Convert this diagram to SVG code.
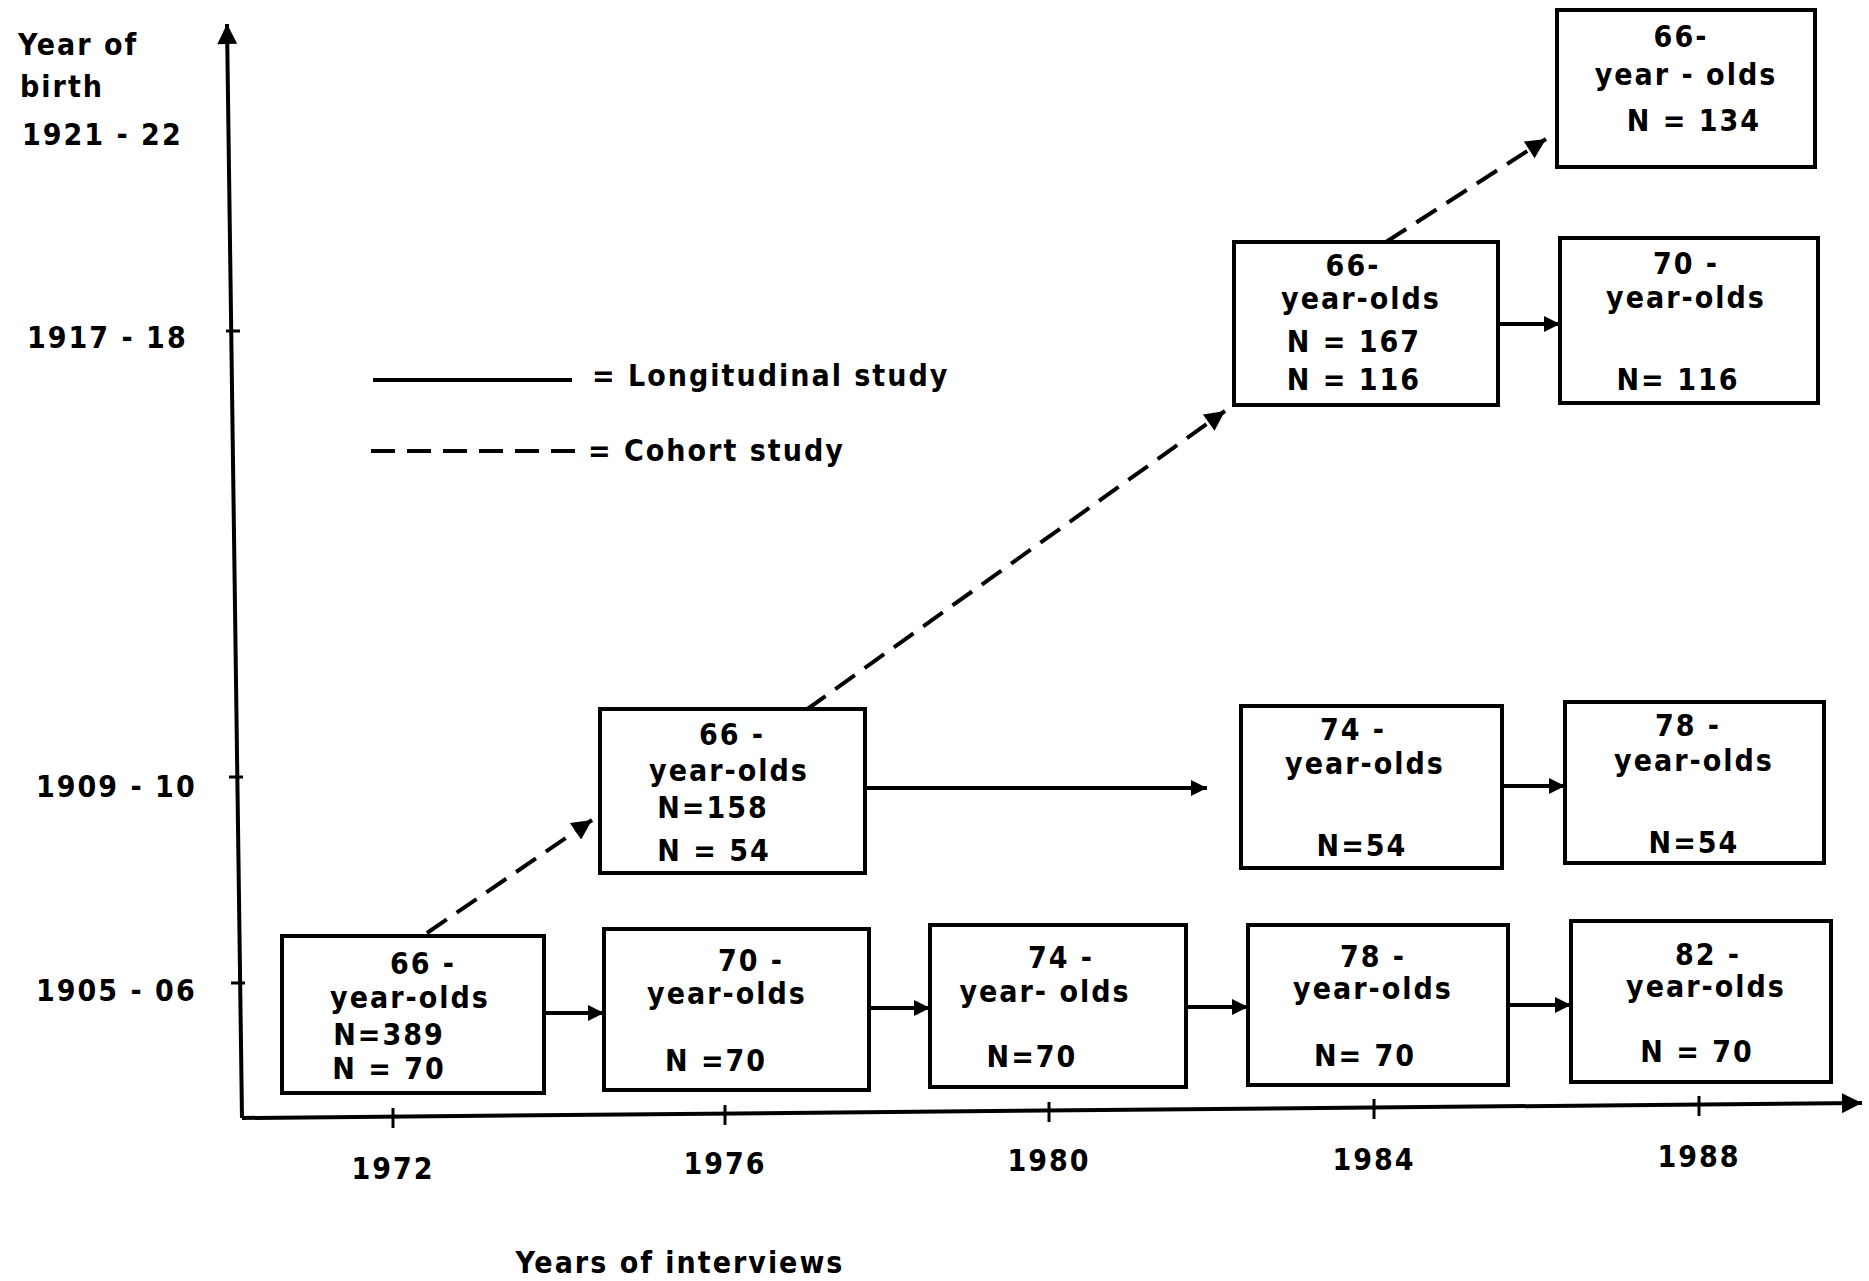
<svg xmlns="http://www.w3.org/2000/svg" width="1869" height="1281" viewBox="0 0 1869 1281">
  <style>
    text { font-family: "DejaVu Sans Condensed", "DejaVu Sans", sans-serif; font-weight: bold; font-size: 30px; fill: #000; letter-spacing: 2px; }
    .c { text-anchor: middle; }
    .box { fill: #fff; stroke: #000; stroke-width: 4; }
    .axis { stroke: #000; stroke-width: 4; fill: none; }
    .tick { stroke: #000; stroke-width: 3; }
    .solid { stroke: #000; stroke-width: 4; fill: none; }
    .dash { stroke: #000; stroke-width: 4; fill: none; stroke-dasharray: 24 12; }
  </style>
  <defs>
    <marker id="head" viewBox="0 0 10 10" refX="10" refY="5" markerWidth="5" markerHeight="4" orient="auto" markerUnits="strokeWidth">
      <path d="M0,0 L10,5 L0,10 z" fill="#000"/>
    </marker>
    <marker id="headBig" viewBox="0 0 10 10" refX="10" refY="5" markerWidth="7" markerHeight="5" orient="auto" markerUnits="strokeWidth">
      <path d="M0,0 L10,5 L0,10 z" fill="#000"/>
    </marker>
  </defs>

  <!-- axes -->
  <g id="axes">
    <line class="axis" x1="242" y1="1118" x2="227" y2="24" marker-end="url(#headBig)"/>
    <line class="axis" x1="242" y1="1118" x2="1862" y2="1103" marker-end="url(#headBig)"/>
    <line class="tick" x1="226" y1="331" x2="240" y2="331"/>
    <line class="tick" x1="229" y1="777" x2="243" y2="777"/>
    <line class="tick" x1="231" y1="983" x2="245" y2="983"/>
    <line class="tick" x1="393" y1="1108" x2="393" y2="1128"/>
    <line class="tick" x1="725" y1="1105" x2="725" y2="1125"/>
    <line class="tick" x1="1049" y1="1102" x2="1049" y2="1122"/>
    <line class="tick" x1="1374" y1="1099" x2="1374" y2="1119"/>
    <line class="tick" x1="1699" y1="1096" x2="1699" y2="1116"/>
    <text x="18" y="55">Year of</text>
    <text x="20" y="97">birth</text>
    <text x="22" y="145">1921 - 22</text>
    <text x="27" y="348">1917 - 18</text>
    <text x="36" y="797">1909 - 10</text>
    <text x="36" y="1001">1905 - 06</text>
    <text class="c" x="393" y="1179">1972</text>
    <text class="c" x="725" y="1174">1976</text>
    <text class="c" x="1049" y="1171">1980</text>
    <text class="c" x="1374" y="1170">1984</text>
    <text class="c" x="1699" y="1167">1988</text>
    <text class="c" x="680" y="1273">Years  of interviews</text>
  </g>

  <!-- legend -->
  <g id="legend">
    <line class="solid" x1="373" y1="380" x2="572" y2="380"/>
    <text x="592" y="386">= Longitudinal  study</text>
    <line class="dash" x1="371" y1="451" x2="580" y2="451"/>
    <text x="588" y="461">= Cohort  study</text>
  </g>

  <!-- connectors -->
  <g id="connectors">
    <line class="solid" x1="544" y1="1013" x2="604" y2="1013" marker-end="url(#head)"/>
    <line class="solid" x1="869" y1="1008" x2="930" y2="1008" marker-end="url(#head)"/>
    <line class="solid" x1="1186" y1="1007" x2="1248" y2="1007" marker-end="url(#head)"/>
    <line class="solid" x1="1508" y1="1005" x2="1571" y2="1005" marker-end="url(#head)"/>
    <line class="solid" x1="865" y1="788" x2="1207" y2="788" marker-end="url(#head)"/>
    <line class="solid" x1="1502" y1="786" x2="1565" y2="786" marker-end="url(#head)"/>
    <line class="solid" x1="1498" y1="324" x2="1560" y2="324" marker-end="url(#head)"/>
    <line class="dash" x1="427" y1="933" x2="592" y2="820" marker-end="url(#headBig)"/>
    <line class="dash" x1="806" y1="710" x2="1225" y2="411" marker-end="url(#headBig)"/>
    <line class="dash" x1="1386" y1="242" x2="1546" y2="139" marker-end="url(#headBig)"/>
  </g>

  <!-- 1905-06 cohort -->
  <g id="box-1972-66">
    <rect class="box" x="282" y="936" width="262" height="157"/>
    <text class="c" x="423" y="974">66 -</text>
    <text class="c" x="410" y="1008">year-olds</text>
    <text class="c" x="389" y="1045">N=389</text>
    <text class="c" x="389" y="1079">N = 70</text>
  </g>
  <g id="box-1976-70">
    <rect class="box" x="604" y="929" width="265" height="161"/>
    <text class="c" x="751" y="971">70 -</text>
    <text class="c" x="727" y="1004">year-olds</text>
    <text class="c" x="716" y="1071">N =70</text>
  </g>
  <g id="box-1980-74">
    <rect class="box" x="930" y="925" width="256" height="162"/>
    <text class="c" x="1061" y="968">74 -</text>
    <text class="c" x="1045" y="1002">year- olds</text>
    <text class="c" x="1032" y="1067">N=70</text>
  </g>
  <g id="box-1984-78">
    <rect class="box" x="1248" y="925" width="260" height="160"/>
    <text class="c" x="1373" y="967">78 -</text>
    <text class="c" x="1373" y="999">year-olds</text>
    <text class="c" x="1365" y="1066">N= 70</text>
  </g>
  <g id="box-1988-82">
    <rect class="box" x="1571" y="921" width="260" height="161"/>
    <text class="c" x="1708" y="965">82 -</text>
    <text class="c" x="1706" y="997">year-olds</text>
    <text class="c" x="1697" y="1062">N = 70</text>
  </g>

  <!-- 1909-10 cohort -->
  <g id="box-1976-66">
    <rect class="box" x="600" y="709" width="265" height="164"/>
    <text class="c" x="732" y="745">66 -</text>
    <text class="c" x="729" y="781">year-olds</text>
    <text class="c" x="713" y="818">N=158</text>
    <text class="c" x="714" y="861">N = 54</text>
  </g>
  <g id="box-1984-74">
    <rect class="box" x="1241" y="706" width="261" height="162"/>
    <text class="c" x="1353" y="740">74 -</text>
    <text class="c" x="1365" y="774">year-olds</text>
    <text class="c" x="1362" y="856">N=54</text>
  </g>
  <g id="box-1988-78">
    <rect class="box" x="1565" y="702" width="259" height="161"/>
    <text class="c" x="1688" y="736">78 -</text>
    <text class="c" x="1694" y="771">year-olds</text>
    <text class="c" x="1694" y="853">N=54</text>
  </g>

  <!-- 1917-18 cohort -->
  <g id="box-1984-66">
    <rect class="box" x="1234" y="242" width="264" height="163"/>
    <text class="c" x="1353" y="276">66-</text>
    <text class="c" x="1361" y="309">year-olds</text>
    <text class="c" x="1354" y="352">N = 167</text>
    <text class="c" x="1354" y="390">N = 116</text>
  </g>
  <g id="box-1988-70">
    <rect class="box" x="1560" y="238" width="258" height="165"/>
    <text class="c" x="1686" y="274">70 -</text>
    <text class="c" x="1686" y="308">year-olds</text>
    <text class="c" x="1678" y="390">N= 116</text>
  </g>

  <!-- 1921-22 cohort -->
  <g id="box-1988-66">
    <rect class="box" x="1557" y="10" width="258" height="157"/>
    <text class="c" x="1681" y="47">66-</text>
    <text class="c" x="1686" y="85">year - olds</text>
    <text class="c" x="1694" y="131">N = 134</text>
  </g>
</svg>
